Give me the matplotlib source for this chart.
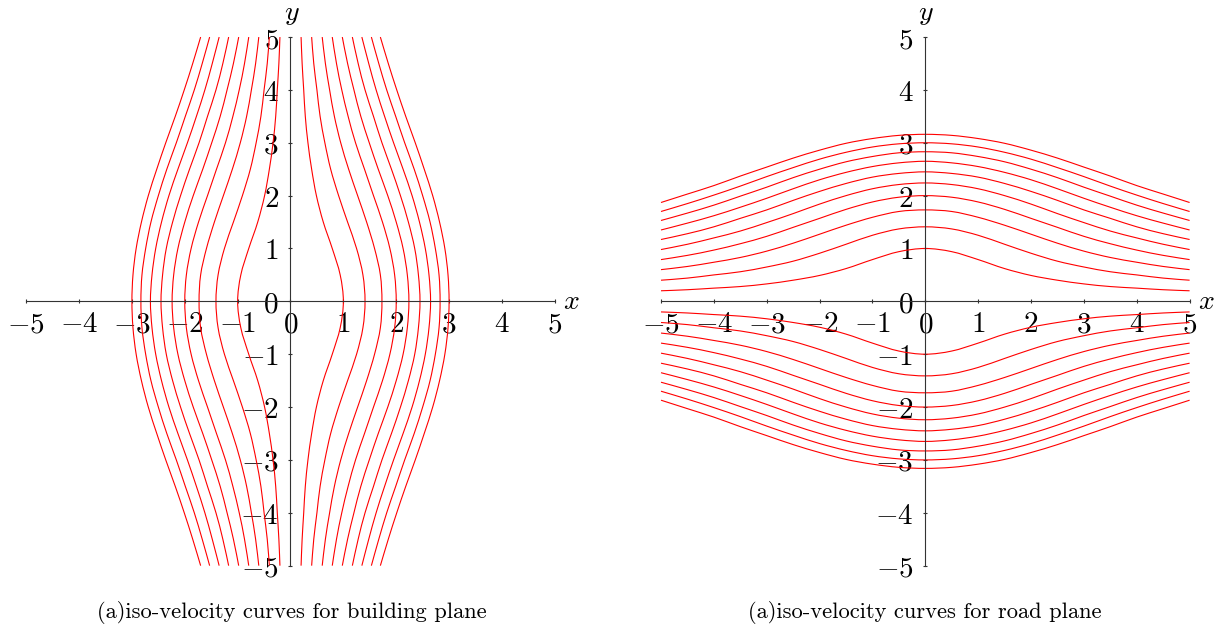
import numpy as np
import matplotlib
matplotlib.use("Agg")
import matplotlib.pyplot as plt
from matplotlib.path import Path
from matplotlib.patches import PathPatch

plt.rcParams["mathtext.fontset"] = "cm"

# Sample positions along each iso-velocity curve (one half; curves are symmetric)
profile_t = [0.0, 0.5, 1.0, 1.5, 2.0, 2.5, 3.0, 3.5, 4.0, 4.5, 5.0]

# Distance of each iso-velocity curve from the axis, levels 1..10
level_1 = [1.00, 0.94, 0.79, 0.62, 0.49, 0.40, 0.33, 0.28, 0.25, 0.22, 0.20]
level_2 = [1.41, 1.37, 1.25, 1.08, 0.91, 0.76, 0.65, 0.56, 0.50, 0.44, 0.40]
level_3 = [1.73, 1.70, 1.59, 1.44, 1.27, 1.10, 0.95, 0.83, 0.74, 0.66, 0.60]
level_4 = [2.00, 1.97, 1.88, 1.74, 1.57, 1.40, 1.23, 1.09, 0.97, 0.87, 0.79]
level_5 = [2.24, 2.21, 2.13, 2.00, 1.84, 1.66, 1.49, 1.33, 1.20, 1.08, 0.98]
level_6 = [2.45, 2.42, 2.35, 2.23, 2.08, 1.91, 1.73, 1.57, 1.41, 1.28, 1.17]
level_7 = [2.65, 2.62, 2.55, 2.44, 2.30, 2.13, 1.95, 1.78, 1.62, 1.48, 1.35]
level_8 = [2.83, 2.81, 2.74, 2.64, 2.50, 2.34, 2.16, 1.99, 1.82, 1.67, 1.53]
level_9 = [3.00, 2.98, 2.92, 2.82, 2.69, 2.53, 2.36, 2.18, 2.01, 1.85, 1.70]
level_10 = [3.16, 3.14, 3.08, 2.99, 2.86, 2.71, 2.54, 2.37, 2.19, 2.03, 1.87]

building_levels = [level_1, level_2, level_3, level_4, level_5,
                   level_6, level_7, level_8, level_9]
road_levels = [level_1, level_2, level_3, level_4, level_5,
               level_6, level_7, level_8, level_9, level_10]

ticks = [-5, -4, -3, -2, -1, 0, 1, 2, 3, 4, 5]
tick_labels = [f"${v}$" for v in ticks]

captions = ["(a)iso-velocity curves for building plane",
            "(a)iso-velocity curves for road plane"]

W, H = 1231, 632
fig = plt.figure(figsize=(W / 100, H / 100), dpi=100)

AXIS_COLOR = "#333333"
CURVE_COLOR = "#ff0000"


def full_profile(values):
    t = np.asarray(profile_t)
    v = np.asarray(values)
    return (np.concatenate([-t[::-1], t[1:]]),
            np.concatenate([v[::-1], v[1:]]))


def smooth_path(px, py):
    """Catmull-Rom style cubic Bezier path through the given points."""
    pts = np.column_stack([px, py])
    verts = [pts[0]]
    codes = [Path.MOVETO]
    n = len(pts)
    for i in range(n - 1):
        p0 = pts[i - 1] if i > 0 else pts[i]
        p1, p2 = pts[i], pts[i + 1]
        p3 = pts[i + 2] if i + 2 < n else pts[i + 1]
        verts += [p1 + (p2 - p0) / 6.0, p2 - (p3 - p1) / 6.0, p2]
        codes += [Path.CURVE4] * 3
    return Path(verts, codes)


def setup_axes(ax):
    ax.set_xlim(-5, 5)
    ax.set_ylim(-5, 5)
    ax.set_aspect("equal")
    ax.patch.set_visible(False)
    for side in ("top", "right"):
        ax.spines[side].set_visible(False)
    for side in ("left", "bottom"):
        ax.spines[side].set_position(("data", 0))
        ax.spines[side].set_color(AXIS_COLOR)
        ax.spines[side].set_linewidth(0.8)
    ax.set_xticks(ticks, labels=tick_labels)
    ax.set_yticks(ticks, labels=tick_labels)
    ax.tick_params(axis="both", direction="inout", length=3, width=0.8,
                   color=AXIS_COLOR, labelsize=21)
    ax.tick_params(axis="x", pad=5)
    ax.tick_params(axis="y", pad=7)
    arrow = dict(arrowstyle="->,head_length=0.45,head_width=0.22",
                 color=AXIS_COLOR, lw=0.8, shrinkA=0, shrinkB=0,
                 mutation_scale=10)
    ax.annotate("", xy=(5.04, 0), xytext=(4.6, 0), arrowprops=arrow)
    ax.annotate("", xy=(0, 5.04), xytext=(0, 4.6), arrowprops=arrow)
    ax.text(5.32, 0.0, "$x$", fontsize=20, ha="center", va="center")
    ax.text(0.02, 5.45, "$y$", fontsize=20, ha="center", va="center")


def add_curve(ax, px, py):
    patch = PathPatch(smooth_path(px, py), fill=False,
                      edgecolor=CURVE_COLOR, lw=0.8, clip_on=False, zorder=2)
    ax.add_patch(patch)


ax_w = 528.6 / W
ax_h = 529.3 / H
ax_b = (H - 566.0) / H

# Building plane: curves run vertically, x as a function of y
ax1 = fig.add_axes([26.2 / W, ax_b, ax_w, ax_h])
setup_axes(ax1)
for values in building_levels:
    t, v = full_profile(values)
    for sign in (1, -1):
        add_curve(ax1, sign * v, t)

# Road plane: curves run horizontally, y as a function of x
ax2 = fig.add_axes([661.0 / W, ax_b, ax_w, ax_h])
setup_axes(ax2)
for values in road_levels:
    t, v = full_profile(values)
    for sign in (1, -1):
        add_curve(ax2, t, sign * v)

fig.text(292 / W, 1 - 612 / H, captions[0], family="cmr10", fontsize=16.2,
         ha="center", va="center")
fig.text(925 / W, 1 - 612 / H, captions[1], family="cmr10", fontsize=16.2,
         ha="center", va="center")

fig.savefig("out.png", dpi=100)
